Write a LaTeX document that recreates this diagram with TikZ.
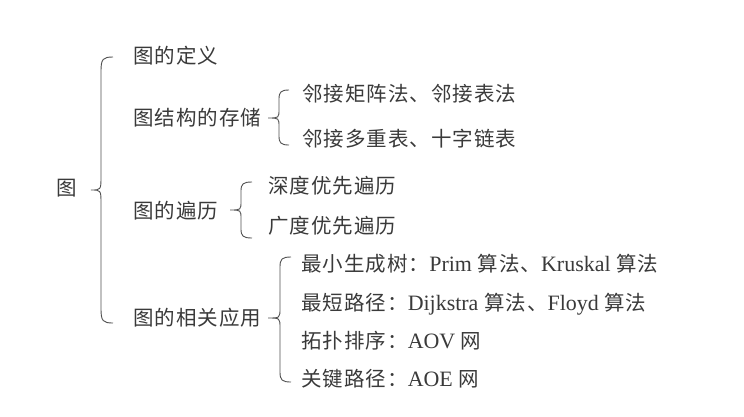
\documentclass[tikz,border=0pt]{standalone}
\usepackage{fontspec}
\setmainfont{Noto Sans CJK SC}[LetterSpace=5]
\newfontfamily\latin{Liberation Serif}[Scale=1.07]
\definecolor{txtgray}{HTML}{3A3A3A}
\definecolor{bracegray}{HTML}{505050}
\newcommand{\lt}[1]{{\latin #1}}
% left brace: end x, straight x, tip x, top y, tip y, bottom y, curl
\newcommand{\lbrc}[7]{%
  \draw[brc] (#1,#4) .. controls (#2+2,#4) and (#2,#4+2) .. (#2,#4+#7) -- (#2,#5-#7)
    .. controls (#2,#5) .. (#3,#5) .. controls (#2,#5) .. (#2,#5+#7)
    -- (#2,#6-#7) .. controls (#2,#6-2) and (#2+2,#6) .. (#1,#6);}
\begin{document}
\begin{tikzpicture}[x=1pt, y=-1pt,
  item/.style={anchor=base west, inner sep=0pt, text=txtgray, font=\fontsize{20.5}{24}\selectfont},
  brc/.style={draw=bracegray, line width=0.9pt}]
\useasboundingbox[fill=white] (0,0) rectangle (744,416);

% root and first level
\node[item] at (56,195) (root) {图};
\node[item] at (133,63) (def) {图的定义};
\node[item] at (133,125) (store) {图结构的存储};
\node[item] at (133,218) (trav) {图的遍历};
\node[item] at (133,325) (app) {图的相关应用};

% storage
\node[item] at (302,101) (s1) {邻接矩阵法、邻接表法};
\node[item] at (302,146) (s2) {邻接多重表、十字链表};

% traversal
\node[item] at (268,193) (t1) {深度优先遍历};
\node[item] at (268,233) (t2) {广度优先遍历};

% applications
\node[item] at (301,271) (a1) {最小生成树：\lt{Prim} 算法、\lt{Kruskal} 算法};
\node[item] at (301,310) (a2) {最短路径：\lt{Dijkstra} 算法、\lt{Floyd} 算法};
\node[item] at (301,348) (a3) {拓扑排序：\lt{AOV} 网};
\node[item] at (301,386) (a4) {关键路径：\lt{AOE} 网};

% braces
\lbrc{113}{101}{91}{57}{190}{323}{14}
\lbrc{289}{279}{268}{90}{118}{145}{9}
\lbrc{252}{241}{230}{182}{210}{238}{9}
\lbrc{291}{280}{268}{257}{318}{382}{10}
\end{tikzpicture}
\end{document}
